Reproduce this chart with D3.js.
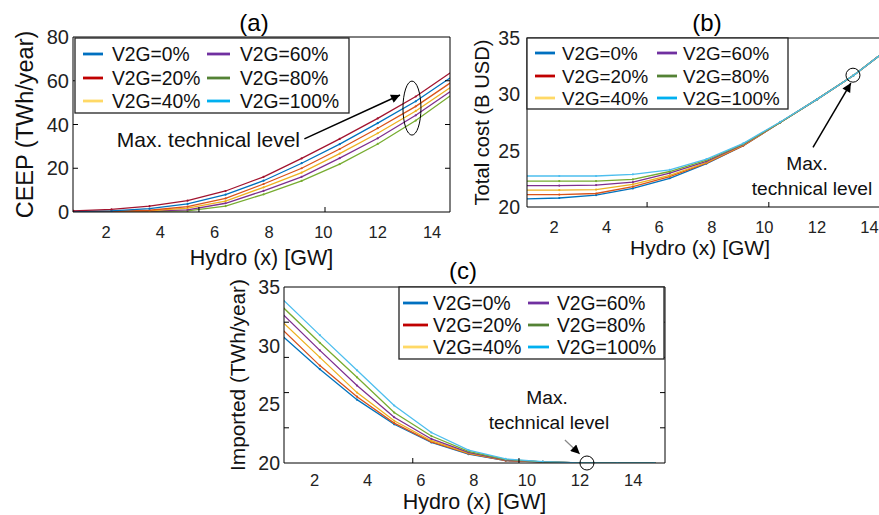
<!DOCTYPE html>
<html><head><meta charset="utf-8">
<script src="https://cdn.jsdelivr.net/npm/d3@7"></script>
<style>body{margin:0;background:#fff}svg{display:block;font-family:"Liberation Sans",Arial,sans-serif}</style>
</head><body><svg id="c" width="879" height="515"></svg>
<script>
// ---------- data ----------
const hydro = [0.8, 2.2, 3.6, 5.0, 6.4, 7.8, 9.2, 10.6, 12.0, 13.4, 14.8];
const legendLabels = ["V2G=0%", "V2G=60%", "V2G=20%", "V2G=80%", "V2G=40%", "V2G=100%"];
const legendColors = ["#0070C0", "#7030A0", "#C00000", "#548235", "#FFD966", "#00B0F0"];
const xTickLabels = [2, 4, 6, 8, 10, 12, 14];

// (a) CEEP (TWh/year), lines top to bottom
const ceepColors = ["#A2142F", "#0072BD", "#D95319", "#EDB120", "#7E2F8E", "#77AC30"];
const ceepA = [0.5, 1.2, 2.7, 5.2, 9.6, 16.1, 24.5, 33.4, 42.8, 52.8, 64.7];
const ceepB = [0.3, 0.5, 1.5, 3.7, 7.9, 14.3, 22.3, 31.0, 40.6, 50.6, 62.4];
const ceepC = [0.2, 0.3, 0.8, 2.5, 6.2, 12.8, 20.0, 28.8, 38.3, 48.3, 60.1];
const ceepD = [0.2, 0.3, 0.5, 1.8, 5.0, 11.3, 18.0, 26.7, 36.0, 46.2, 58.0];
const ceepE = [0.2, 0.3, 0.4, 1.0, 4.0, 9.7, 16.1, 24.6, 33.7, 44.2, 56.2];
const ceepF = [0.2, 0.3, 0.3, 0.5, 2.7, 8.1, 14.2, 21.9, 31.1, 41.8, 54.3];
const ceepYTicks = [0, 20, 40, 60, 80];

// (b) Total cost (B USD)
const costColors = ["#4DBEEE", "#77AC30", "#7E2F8E", "#EDB120", "#D95319", "#0072BD"];
const cost100 = [22.75, 22.75, 22.75, 22.9, 23.3, 24.25, 25.65, 27.55, 29.55, 31.7, 34.2];
const cost80  = [22.3, 22.3, 22.3, 22.45, 23.15, 24.15, 25.6, 27.5, 29.55, 31.7, 34.2];
const cost60  = [21.9, 21.9, 21.95, 22.2, 23.0, 24.05, 25.55, 27.5, 29.55, 31.7, 34.2];
const cost40  = [21.5, 21.5, 21.55, 22.0, 22.8, 23.95, 25.5, 27.5, 29.55, 31.7, 34.2];
const cost20  = [21.1, 21.1, 21.2, 21.8, 22.7, 23.9, 25.45, 27.5, 29.55, 31.7, 34.2];
const cost0   = [20.7, 20.8, 21.05, 21.65, 22.55, 23.85, 25.45, 27.5, 29.55, 31.7, 34.2];
const costYTicks = [20, 25, 30, 35];

// (c) Imported (TWh/year)
const impColors = ["#4DBEEE", "#77AC30", "#7E2F8E", "#EDB120", "#D95319", "#0072BD"];
const imp100 = [33.95, 30.9, 27.9, 24.9, 22.6, 21.1, 20.35, 20.12, 20.0, 20.0, 20.0];
const imp80  = [33.3, 30.25, 27.3, 24.3, 22.3, 21.0, 20.3, 20.1, 20.0, 20.0, 20.0];
const imp60  = [32.7, 29.6, 26.6, 23.9, 22.05, 20.9, 20.25, 20.1, 20.0, 20.0, 20.0];
const imp40  = [32.0, 29.0, 26.0, 23.6, 21.9, 20.85, 20.25, 20.1, 20.0, 20.0, 20.0];
const imp20  = [31.35, 28.3, 25.65, 23.4, 21.8, 20.8, 20.2, 20.1, 20.0, 20.0, 20.0];
const imp0   = [30.8, 28.0, 25.4, 23.3, 21.75, 20.75, 20.2, 20.1, 20.0, 20.0, 20.0];
const impYTicks = [20, 25, 30, 35];
const impYTickMarks = [23, 26, 29, 32];

// ---------- drawing ----------
const svg = d3.select("#c");
const panels = [
  {id:"a", title:"(a)", titleX:254, titleY:31, titleSize:24,
   x:d3.scaleLinear([0.785, 14.66], [73, 450]), y:d3.scaleLinear([0, 80], [212, 37]),
   series:[ceepA, ceepB, ceepC, ceepD, ceepE, ceepF], colors:ceepColors, yTicks:ceepYTicks,
   yTickMarks:[20, 40, 60], xTickMarks:[5.42, 10.06], rightBorder:true,
   yTitle:"CEEP (TWh/year)", yTitleX:25, yTitleSize:23.5, yLabSize:20, yLabGap:4,
   xLabY:238, xTitleY:265, xTitleSize:21.5, xLabSize:16.5,
   legend:{x:75, y:38, w:274, h:75, rows:[54, 78, 101], c1:[83, 103, 112], c2:[207, 230, 240], size:19.3}},
  {id:"b", title:"(b)", titleX:707, titleY:31, titleSize:24,
   x:d3.scaleLinear([0.973, 14.36], [527, 879]), y:d3.scaleLinear([20, 35], [207, 38]),
   series:[cost100, cost80, cost60, cost40, cost20, cost0], colors:costColors, yTicks:costYTicks,
   yTickMarks:[], xTickMarks:[5.54, 10.17], rightBorder:false,
   yTitle:"Total cost (B USD)", yTitleX:482, yTitleSize:20.2, yLabSize:19.5, yLabGap:7,
   xLabY:233, xTitleY:255, xTitleSize:21, xLabSize:16.5,
   legend:{x:527, y:38, w:261, h:71, rows:[53, 76, 98], c1:[535, 555, 562], c2:[657, 677, 683], size:18.8}},
  {id:"c", title:"(c)", titleX:463, titleY:279, titleSize:24,
   x:d3.scaleLinear([0.85, 15.2], [284, 665]), y:d3.scaleLinear([20, 35], [463, 287]),
   series:[imp100, imp80, imp60, imp40, imp20, imp0], colors:impColors, yTicks:impYTicks,
   yTickMarks:impYTickMarks, xTickMarks:[5.7, 9.7], rightBorder:true,
   yTitle:"Imported (TWh/year)", yTitleX:237, yTitleSize:20.8, yLabSize:19.5, yLabGap:4,
   xLabY:486, xTitleY:509, xTitleSize:21.5, xLabSize:16.5,
   legend:{x:399, y:287, w:265, h:72, rows:[303, 325, 347], c1:[403, 428, 433], c2:[528, 549, 557], size:19.3}}
];

panels.forEach(p => {
  const g = svg.append("g");
  const [x0, x1] = p.x.range(), [y0, y1] = p.y.range();
  g.append("defs").append("clipPath").attr("id", "clip" + p.id)
    .append("rect").attr("x", x0).attr("y", y1).attr("width", x1 - x0).attr("height", y0 - y1);

  // lines
  const line = d3.line().x((d, i) => p.x(hydro[i])).y(d => p.y(d));
  const lg = g.append("g").attr("clip-path", `url(#clip${p.id})`);
  p.series.slice().reverse().forEach((s, k) => {
    const ci = p.series.length - 1 - k;
    lg.append("path").datum(s).attr("d", line).attr("fill", "none")
      .attr("stroke", p.colors[ci]).attr("stroke-width", 1.3);
    lg.selectAll(null).data(s).enter().append("circle")
      .attr("cx", (d, i) => p.x(hydro[i])).attr("cy", d => p.y(d)).attr("r", 1.1)
      .attr("fill", p.colors[ci]);
  });

  // frame
  g.append("line").attr("x1", x0).attr("x2", x0).attr("y1", y1).attr("y2", y0).attr("stroke", "#000");
  g.append("line").attr("x1", x0).attr("x2", x1).attr("y1", y0).attr("y2", y0).attr("stroke", "#000");
  g.append("line").attr("x1", x0).attr("x2", x1).attr("y1", y1).attr("y2", y1).attr("stroke", "#000");
  if (p.rightBorder) g.append("line").attr("x1", x1).attr("x2", x1).attr("y1", y1).attr("y2", y0).attr("stroke", "#000");

  // tick marks (inside)
  p.xTickMarks.forEach(t => {
    g.append("line").attr("x1", p.x(t)).attr("x2", p.x(t)).attr("y1", y0).attr("y2", y0 - 5).attr("stroke", "#000");
  });
  p.yTickMarks.forEach(t => {
    g.append("line").attr("x1", x0).attr("x2", x0 + 5).attr("y1", p.y(t)).attr("y2", p.y(t)).attr("stroke", "#000");
    if (p.rightBorder) g.append("line").attr("x1", x1).attr("x2", x1 - 5).attr("y1", p.y(t)).attr("y2", p.y(t)).attr("stroke", "#000");
  });

  // tick labels
  g.selectAll(null).data(xTickLabels).enter().append("text")
    .attr("x", d => p.x(d)).attr("y", p.xLabY).attr("text-anchor", "middle")
    .attr("font-size", p.xLabSize).attr("fill", "#222").text(d => d);
  g.selectAll(null).data(p.yTicks).enter().append("text")
    .attr("x", x0 - p.yLabGap).attr("y", d => p.y(d)).attr("dy", "0.36em").attr("text-anchor", "end")
    .attr("font-size", p.yLabSize).attr("fill", "#222").text(d => d);

  // titles
  g.append("text").attr("x", p.titleX).attr("y", p.titleY).attr("text-anchor", "middle")
    .attr("font-size", p.titleSize).text(p.title);
  g.append("text").attr("transform", `translate(${p.yTitleX},${(y0 + y1) / 2}) rotate(-90)`)
    .attr("dy", "0.36em").attr("text-anchor", "middle").attr("font-size", p.yTitleSize).attr("fill", "#111").text(p.yTitle);
  g.append("text").attr("x", (x0 + Math.min(x1, p.id === "b" ? 889 : x1)) / 2 + (p.id === "b" ? -3 : 0)).attr("y", p.xTitleY)
    .attr("text-anchor", "middle").attr("font-size", p.xTitleSize).attr("fill", "#111").text("Hydro (x) [GW]");

  // legend
  const L = p.legend;
  g.append("rect").attr("x", L.x).attr("y", L.y).attr("width", L.w).attr("height", L.h)
    .attr("fill", "#fff").attr("stroke", "#222").attr("stroke-width", 1.3);
  legendLabels.forEach((lab, i) => {
    const row = Math.floor(i / 2), col = i % 2 ? L.c2 : L.c1;
    g.append("line").attr("x1", col[0]).attr("x2", col[1]).attr("y1", L.rows[row]).attr("y2", L.rows[row])
      .attr("stroke", legendColors[i]).attr("stroke-width", 2.8);
    g.append("text").attr("x", col[2]).attr("y", L.rows[row]).attr("dy", "0.36em")
      .attr("font-size", L.size).attr("fill", "#111").text(lab);
  });
  p.g = g;
});

// arrow marker
svg.append("defs").append("marker").attr("id", "arr").attr("viewBox", "0 0 10 10")
  .attr("refX", 10).attr("refY", 5).attr("markerWidth", 12).attr("markerHeight", 9)
  .attr("markerUnits", "userSpaceOnUse").attr("orient", "auto")
  .append("path").attr("d", "M0,0L10,5L0,10z").attr("fill", "#000");

// annotations (a)
{
  const p = panels[0], g = p.g;
  g.append("ellipse").attr("cx", p.x(13.26)).attr("cy", p.y(47.5)).attr("rx", 9).attr("ry", 27)
    .attr("fill", "none").attr("stroke", "#000").attr("stroke-width", 1);
  g.append("line").attr("x1", p.x(9.3)).attr("y1", p.y(33.4)).attr("x2", p.x(12.82)).attr("y2", p.y(53.5))
    .attr("stroke", "#000").attr("stroke-width", 1.5).attr("marker-end", "url(#arr)");
  g.append("text").attr("x", p.x(9.14)).attr("y", p.y(29.7)).attr("text-anchor", "end")
    .attr("font-size", 21).attr("fill", "#111").text("Max. technical level");
}
// annotations (b)
{
  const p = panels[1], g = p.g;
  g.append("circle").attr("cx", p.x(13.37)).attr("cy", p.y(31.7)).attr("r", 7)
    .attr("fill", "none").attr("stroke", "#000").attr("stroke-width", 1);
  g.append("line").attr("x1", p.x(11.85)).attr("y1", p.y(25.3)).attr("x2", p.x(13.29)).attr("y2", p.y(31.0))
    .attr("stroke", "#000").attr("stroke-width", 1.5).attr("marker-end", "url(#arr)");
  g.append("text").attr("x", p.x(11.62)).attr("y", p.y(23.3)).attr("text-anchor", "middle")
    .attr("font-size", 19.2).attr("fill", "#111").text("Max.");
  g.append("text").attr("x", p.x(11.81)).attr("y", p.y(21.06)).attr("text-anchor", "middle")
    .attr("font-size", 19.2).attr("fill", "#111").text("technical level");
}
// annotations (c)
{
  const p = panels[2], g = p.g;
  g.append("circle").attr("cx", p.x(12.26)).attr("cy", p.y(20)).attr("r", 7)
    .attr("fill", "none").attr("stroke", "#000").attr("stroke-width", 1);
  g.append("line").attr("x1", p.x(11.43)).attr("y1", p.y(21.96)).attr("x2", p.x(11.99)).attr("y2", p.y(20.77))
    .attr("stroke", "#888").attr("stroke-width", 1.2).attr("marker-end", "url(#arr)");
  g.append("text").attr("x", p.x(10.76)).attr("y", p.y(25.03)).attr("text-anchor", "middle")
    .attr("font-size", 19.2).attr("fill", "#111").text("Max.");
  g.append("text").attr("x", p.x(10.83)).attr("y", p.y(22.9)).attr("text-anchor", "middle")
    .attr("font-size", 19.2).attr("fill", "#111").text("technical level");
}
</script></body></html>
